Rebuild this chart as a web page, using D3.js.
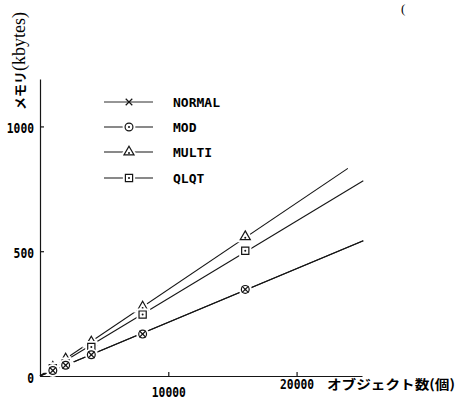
<!DOCTYPE html>
<html>
<head>
<meta charset="utf-8">
<script src="https://cdn.jsdelivr.net/npm/d3@7"></script>
<style>
  html, body { margin: 0; padding: 0; background: #fff; }
  svg { display: block; }
</style>
</head>
<body>
<svg id="chart" width="465" height="403"></svg>
<script>
// Memory use versus number of objects, four storage schemes
const objects = [1000, 2000, 4000, 8000, 16000];
const normalKB = [22, 43, 85, 168, 347];
const modKB = [22, 43, 85, 168, 347];
const multiKB = [35, 68, 136, 276, 558];
const qlqtKB = [31, 50, 116, 246, 502];
// straight fits run from the origin out to these end points
const fitEndObjects = [25200, 25200, 24000, 25200];
const fitEndKB = [542, 542, 832, 782];
const seriesNames = ["NORMAL", "MOD", "MULTI", "QLQT"];
const xTickValues = [10000, 20000];
const yTickValues = [0, 500, 1000];

const ink = "#151515";
const svg = d3.select("#chart");

const x = d3.scaleLinear().domain([0, 25100]).range([40, 362]);
const y = d3.scaleLinear().domain([0, 1190]).range([376, 79]);

// axes
const xAxis = svg.append("g").attr("transform", `translate(0,${y(0)})`)
  .call(d3.axisBottom(x).tickValues(xTickValues).tickFormat(d3.format("d"))
    .tickSizeInner(-4).tickSizeOuter(0).tickPadding(10));
const yAxis = svg.append("g").attr("transform", `translate(${x(0)},0)`)
  .call(d3.axisLeft(y).tickValues(yTickValues).tickFormat(d3.format("d"))
    .tickSizeInner(-4).tickSizeOuter(0).tickPadding(6));

[xAxis, yAxis].forEach(g => {
  g.select(".domain").attr("stroke", ink).attr("stroke-width", 1.2);
  g.selectAll(".tick line").attr("stroke", ink).attr("stroke-width", 1.2);
  g.selectAll(".tick text")
    .attr("fill", "#000")
    .style("font-family", "'DejaVu Sans Mono', monospace")
    .style("font-weight", "bold")
    .style("font-size", "14px")
    .attr("lengthAdjust", "spacingAndGlyphs");
});
xAxis.selectAll(".tick text")
  .attr("textLength", 34)
  .attr("y", d => d === 20000 ? 3 : 11);
yAxis.selectAll(".tick text")
  .attr("textLength", d => String(d).length * 6.8)
  .attr("dy", "0.45em");
yAxis.selectAll(".tick").filter(d => d === 0).select("line").remove();

// fitted lines
const fitLine = d3.line().x(d => x(d[0])).y(d => y(d[1]));
const fits = seriesNames.map((name, i) => ({ name, pts: [[0, 0], [fitEndObjects[i], fitEndKB[i]]] }));
svg.append("g").selectAll("path").data(fits).join("path")
  .attr("d", d => fitLine(d.pts))
  .attr("fill", "none")
  .attr("stroke", ink)
  .attr("stroke-width", 1.1);

// marker shapes
const sym = {
  NORMAL: d3.symbol().type(d3.symbolX || d3.symbolCross).size(30),
  MOD: d3.symbol().type(d3.symbolCircle).size(48),
  MULTI: d3.symbol().type(d3.symbolTriangle).size(44),
  QLQT: d3.symbol().type(d3.symbolSquare).size(52)
};
const hasDot = { NORMAL: false, MOD: true, MULTI: true, QLQT: true };

function drawMarker(g, name, cx, cy) {
  const m = g.append("g").attr("transform", `translate(${cx},${cy})`);
  if (name !== "NORMAL") {
    m.append("path").attr("d", sym[name]())
      .attr("fill", "#fff").attr("stroke", "#fff").attr("stroke-width", 5);
  }
  m.append("path").attr("d", sym[name]())
    .attr("fill", name === "NORMAL" ? "none" : "#fff")
    .attr("stroke", ink).attr("stroke-width", 1.2);
  if (hasDot[name]) {
    m.append("circle").attr("cx", 0).attr("cy", name === "MULTI" ? 1 : 0).attr("r", 1).attr("fill", ink);
  }
}

// measured points
const values = { NORMAL: normalKB, MOD: modKB, MULTI: multiKB, QLQT: qlqtKB };
const pointLayer = svg.append("g");
["MULTI", "QLQT", "MOD", "NORMAL"].forEach(name => {
  objects.forEach((n, i) => drawMarker(pointLayer, name, x(n), y(values[name][i])));
});

// legend
const legend = svg.append("g");
const legendRows = [102, 127, 152, 178];
seriesNames.forEach((name, i) => {
  const ly = legendRows[i];
  legend.append("line").attr("x1", 104).attr("x2", 153).attr("y1", ly).attr("y2", ly)
    .attr("stroke", ink).attr("stroke-width", name === "NORMAL" ? 0.9 : 1.1);
  drawMarker(legend, name, 129, ly);
  legend.append("text").attr("x", 173).attr("y", ly + 5)
    .attr("fill", "#000")
    .style("font-family", "'DejaVu Sans Mono', monospace")
    .style("font-weight", "bold")
    .style("font-size", "13px")
    .text(name);
});

// axis titles
svg.append("text")
  .attr("x", 327).attr("y", 389)
  .attr("textLength", 128).attr("lengthAdjust", "spacingAndGlyphs")
  .attr("fill", "#000")
  .style("font-family", "'Noto Sans CJK JP', sans-serif")
  .style("font-weight", "bold")
  .style("font-size", "13px")
  .text("オブジェクト数(個)");

const yTitle = svg.append("text")
  .attr("transform", "translate(25,110) rotate(-90)")
  .attr("fill", "#000");
yTitle.append("tspan")
  .style("font-family", "'Noto Sans CJK JP', sans-serif")
  .style("font-weight", "bold")
  .style("font-size", "13px")
  .text("メモリ");
yTitle.append("tspan")
  .style("font-family", "'Liberation Serif', serif")
  .style("font-size", "18px")
  .text("(kbytes)");

// bracket from the running page text
svg.append("text").attr("x", 401).attr("y", 13)
  .style("font-family", "'Liberation Serif', serif").style("font-size", "13px")
  .text("(");
</script>
</body>
</html>
